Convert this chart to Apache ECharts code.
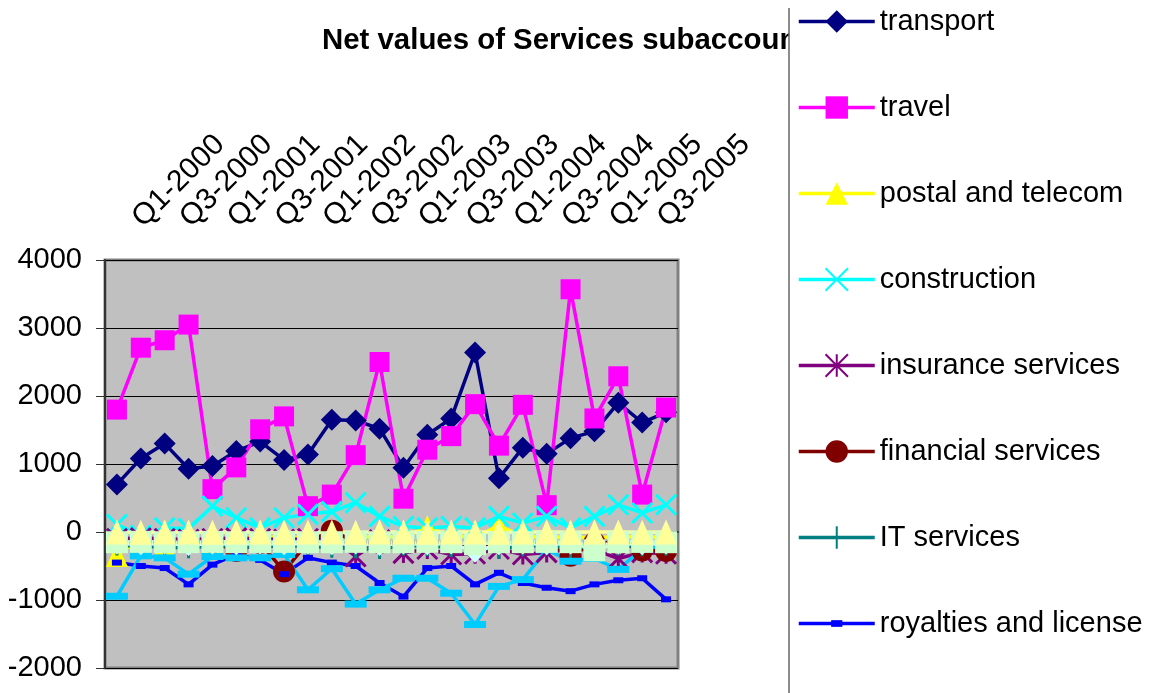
<!DOCTYPE html>
<html>
<head>
<meta charset="utf-8">
<title>Net values of Services subaccount</title>
<script src="https://cdn.jsdelivr.net/npm/echarts@6/dist/echarts.min.js"></script>
<style>
  body { margin: 0; background: #fff; }
  #Stack { width: 1155px; height: 693px; }
</style>
</head>
<body>
<div id="Stack"></div>
<script>
// quarters on the category axis
var quarters = ['Q1-2000','Q2-2000','Q3-2000','Q4-2000','Q1-2001','Q2-2001','Q3-2001','Q4-2001',
  'Q1-2002','Q2-2002','Q3-2002','Q4-2002','Q1-2003','Q2-2003','Q3-2003','Q4-2003',
  'Q1-2004','Q2-2004','Q3-2004','Q4-2004','Q1-2005','Q2-2005','Q3-2005','Q4-2005'];

// net values
var transport = [700, 1080, 1300, 930, 970, 1190, 1330, 1060, 1140, 1650, 1640, 1520, 945, 1430, 1670, 2640, 790, 1240, 1150, 1380, 1480, 1900, 1610, 1760];
var travel = [1800, 2710, 2820, 3050, 630, 950, 1510, 1700, 380, 550, 1130, 2500, 490, 1210, 1410, 1880, 1270, 1870, 395, 3570, 1670, 2290, 550, 1830];
var postal = [-340, -90, -190, -80, -190, -70, -90, -60, -100, -70, -80, -60, -80, 70, -60, -70, 90, -60, -80, -70, -90, -60, -80, -70];
var construction = [110, -50, 60, 50, 380, 210, 60, 210, 260, 300, 430, 230, 80, 60, 80, 60, 230, 130, 230, 60, 230, 400, 280, 400];
var insurance = [-100, -90, -100, -110, -100, -90, -100, -110, -100, -90, -360, -120, -310, -250, -330, -320, -250, -330, -300, -250, -260, -390, -300, -320];
var financial = [-150, -160, -150, -140, -150, -280, -160, -580, -150, 20, -150, -160, -150, -140, -160, -230, -150, -160, -150, -350, -160, -150, -270, -280];
var itServices = [-200, -210, -220, -240, -200, -210, -220, -200, -210, -230, -240, -250, -200, -210, -220, -240, -250, -210, -200, -240, -210, -200, -210, -200];
var royalties = [-450, -500, -530, -770, -480, -330, -410, -620, -380, -450, -500, -750, -950, -530, -500, -770, -600, -750, -820, -870, -770, -710, -680, -990];
// series whose legend entries fall below the visible area
var otherBusiness = [-945, -350, -380, -620, -360, -380, -380, -330, -850, -540, -1060, -850, -680, -680, -900, -1360, -800, -700, -260, -430, -390, -550, -250, -200];
var personal = [-170, -180, -170, -190, -170, -180, -170, -180, -170, -180, -170, -190, -170, -180, -170, -290, -180, -170, -180, -170, -190, -170, -180, -170];
var government = [-150, -145, -150, -150, -145, -150, -150, -145, -150, -150, -145, -150, -150, -145, -150, -180, -150, -150, -145, -150, -270, -150, -145, -150];
var otherServices = [0, -5, 0, 0, -5, 0, 0, -5, 0, 0, -5, 0, 0, -5, 0, 0, -5, 0, 0, -5, 0, 0, -5, 0];

var yTicks = { min: -2000, max: 4000, step: 1000 };
var legendNames = ['transport', 'travel', 'postal and telecom', 'construction',
  'insurance services', 'financial services', 'IT services', 'royalties and license'];

(function(){
  var font = 'Arial, "Liberation Sans", sans-serif';
  var symX = 'path://M0,0L10,10M10,0L0,10';
  var symStar = 'path://M0,0L10,10M10,0L0,10M5,0L5,10';
  var symPlus = 'path://M5,0L5,10M0,5L10,5';
  var symDash = 'path://M0,0M20,20M5,7h10v6h-10z';

  function line(name, data, color, symbol, size, stroked) {
    var obj = {};
    obj.name = name;
    obj.type = 'line';
    obj.data = data;
    obj.symbol = symbol;
    obj.symbolSize = size;
    obj.showAllSymbol = true;
    obj.lineStyle = { color: color, width: 3.5 };
    obj.itemStyle = stroked ? { color: color, borderColor: color, borderWidth: 3 } : { color: color };
    obj.emphasis = { disabled: true };
    return obj;
  }

  var option = {
    animation: false,
    backgroundColor: '#fff',
    title: {
      text: 'Net values of Services subaccount',
      left: 322,
      top: 26,
      padding: 0,
      textStyle: { fontFamily: font, fontSize: 29.4, fontWeight: 'bold', color: '#000' }
    },
    legend: {
      data: legendNames,
      orient: 'vertical',
      left: 789,
      top: 7,
      padding: [0, 0, 0, 8],
      backgroundColor: '#fff',
      z: 10,
      itemWidth: 76,
      itemHeight: 28,
      itemGap: 57,
      itemTextGap: 7,
      selectedMode: false,
      lineStyle: { width: 3.5 },
      textStyle: { fontFamily: font, fontSize: 29, color: '#000' }
    },
    graphic: [{
      type: 'line',
      z: 100,
      shape: { x1: 789, y1: 8, x2: 789, y2: 693 },
      style: { stroke: '#666', lineWidth: 1.5 }
    }],
    grid: {
      left: 105,
      right: 477,
      top: 260,
      bottom: 25,
      show: true,
      backgroundColor: '#c0c0c0',
      borderColor: '#808080',
      borderWidth: 3
    },
    xAxis: {
      type: 'category',
      position: 'top',
      data: quarters,
      boundaryGap: true,
      axisLine: { lineStyle: { color: '#333', width: 2 } },
      axisTick: { interval: 0, length: 8, lineStyle: { color: '#333', width: 1 } },
      axisLabel: {
        interval: 1,
        rotate: 45,
        margin: 17,
        padding: [0, 0, 0, 29],
        fontFamily: font,
        fontSize: 30,
        color: '#000'
      },
      splitLine: { show: false }
    },
    yAxis: {
      type: 'value',
      min: yTicks.min,
      max: yTicks.max,
      interval: yTicks.step,
      axisLine: { show: true, lineStyle: { color: '#333', width: 2 } },
      axisTick: { show: true, length: 9, lineStyle: { color: '#333', width: 1 } },
      axisLabel: {
        margin: 23,
        fontFamily: font,
        fontSize: 29,
        color: '#000',
        formatter: function (v) { return String(v); }
      },
      splitLine: { lineStyle: { color: '#000', width: 1.2 } }
    },
    series: [
      line('transport', transport, '#000080', 'diamond', 22),
      line('travel', travel, '#ff00ff', 'rect', 20),
      line('postal and telecom', postal, '#ffff00', 'triangle', [22, 24]),
      line('construction', construction, '#00ffff', symX, 20, true),
      line('insurance services', insurance, '#800080', symStar, 20, true),
      line('financial services', financial, '#800000', 'circle', 22),
      line('IT services', itServices, '#008080', symPlus, 20, true),
      line('royalties and license', royalties, '#0000ff', symDash, 20),
      line('other business services', otherBusiness, '#00ccff', 'rect', [22, 7]),
      line('personal and cultural', personal, '#ccffff', 'diamond', 22),
      line('government services', government, '#ccffcc', 'rect', 22),
      line('other services', otherServices, '#ffff99', 'triangle', [22, 25])
    ]
  };

  var myChart = echarts.init(document.getElementById('Stack'));
  myChart.setOption(option);
})();
</script>
</body>
</html>
